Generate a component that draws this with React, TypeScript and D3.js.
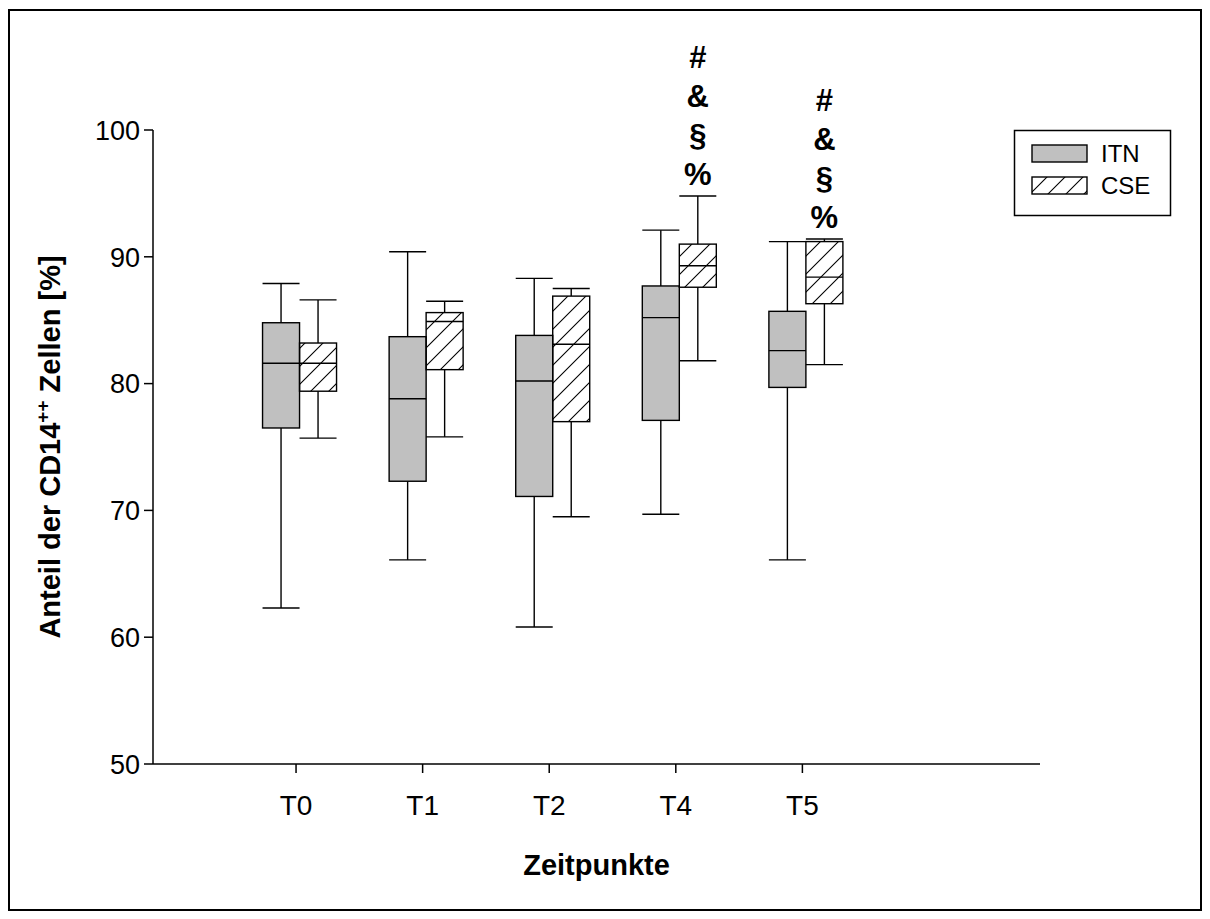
import React from "react";
import * as d3 from "d3";

// Time points on the x axis
const categories = ["T0", "T1", "T2", "T4", "T5"];

// ITN group: whisker low, lower quartile, median, upper quartile, whisker high (%)
const itnLow = [62.3, 66.1, 60.8, 69.7, 66.1];
const itnQ1 = [76.5, 72.3, 71.1, 77.1, 79.7];
const itnMedian = [81.6, 78.8, 80.2, 85.2, 82.6];
const itnQ3 = [84.8, 83.7, 83.8, 87.7, 85.7];
const itnHigh = [87.9, 90.4, 88.3, 92.1, 91.2];

// CSE group
const cseLow = [75.7, 75.8, 69.5, 81.8, 81.5];
const cseQ1 = [79.4, 81.1, 77.0, 87.6, 86.3];
const cseMedian = [81.6, 84.9, 83.1, 89.3, 88.4];
const cseQ3 = [83.2, 85.6, 86.9, 91.0, 91.2];
const cseHigh = [86.6, 86.5, 87.5, 94.8, 91.4];

// Significance symbols stacked above the CSE boxes of these time points
const significanceMarks = ["#", "&", "§", "%"];
const markedTimepoints = ["T4", "T5"];

const yTicks = [50, 60, 70, 80, 90, 100];
const seriesNames = ["ITN", "CSE"];

const FONT = "'Liberation Sans', Arial, Helvetica, sans-serif";

const PLOT = { left: 153, right: 1040, top: 130, bottom: 764 };
const BOX_W = 37;
const PAIR_SHIFT = 3.5;

type Stats = { low: number; q1: number; med: number; q3: number; high: number };

function BoxGlyph({ cx, s, y, fill }: { cx: number; s: Stats; y: d3.ScaleLinear<number, number>; fill: string }) {
  const half = BOX_W / 2;
  return (
    <g stroke="#000" strokeWidth={1.4}>
      <line x1={cx} x2={cx} y1={y(s.high)} y2={y(s.q3)} />
      <line x1={cx} x2={cx} y1={y(s.q1)} y2={y(s.low)} />
      <line x1={cx - half} x2={cx + half} y1={y(s.high)} y2={y(s.high)} />
      <line x1={cx - half} x2={cx + half} y1={y(s.low)} y2={y(s.low)} />
      <rect x={cx - half} y={y(s.q3)} width={BOX_W} height={y(s.q1) - y(s.q3)} fill={fill} />
      <line x1={cx - half} x2={cx + half} y1={y(s.med)} y2={y(s.med)} />
    </g>
  );
}

export default function App() {
  const y = d3.scaleLinear().domain([50, 100]).range([PLOT.bottom, PLOT.top]);
  const x = d3.scaleLinear().domain([-1.13, 5.877]).range([PLOT.left, PLOT.right]);

  const itn: Stats[] = categories.map((_, i) => ({
    low: itnLow[i], q1: itnQ1[i], med: itnMedian[i], q3: itnQ3[i], high: itnHigh[i],
  }));
  const cse: Stats[] = categories.map((_, i) => ({
    low: cseLow[i], q1: cseQ1[i], med: cseMedian[i], q3: cseQ3[i], high: cseHigh[i],
  }));

  const midY = (PLOT.top + PLOT.bottom) / 2;
  const midX = (PLOT.left + PLOT.right) / 2;

  return (
    <svg
      width={1210}
      height={919}
      style={{ position: "absolute", left: 0, top: 0, background: "#fff" }}
      fontFamily={FONT}
    >
      <defs>
        <pattern id="hatch" patternUnits="userSpaceOnUse" width={18} height={18}>
          <path
            d="M0,18 L18,0 M-4.5,4.5 L4.5,-4.5 M13.5,22.5 L22.5,13.5"
            stroke="#000"
            strokeWidth={1.1}
          />
        </pattern>
      </defs>

      {/* outer frame */}
      <rect x={9} y={10} width={1192} height={900} fill="#fff" stroke="#000" strokeWidth={2} />

      {/* y axis */}
      <line x1={PLOT.left} x2={PLOT.left} y1={PLOT.top} y2={PLOT.bottom} stroke="#000" strokeWidth={1.5} />
      {yTicks.map((t) => (
        <g key={t}>
          <line x1={PLOT.left - 9} x2={PLOT.left} y1={y(t)} y2={y(t)} stroke="#000" strokeWidth={1.5} />
          <text x={PLOT.left - 13} y={y(t)} dy="0.36em" textAnchor="end" fontSize={27}>
            {t}
          </text>
        </g>
      ))}

      {/* x axis */}
      <line x1={PLOT.left} x2={PLOT.right} y1={PLOT.bottom} y2={PLOT.bottom} stroke="#000" strokeWidth={1.5} />
      {categories.map((c, i) => (
        <g key={c}>
          <line x1={x(i)} x2={x(i)} y1={PLOT.bottom} y2={PLOT.bottom + 9} stroke="#000" strokeWidth={1.5} />
          <text x={x(i)} y={PLOT.bottom + 51} textAnchor="middle" fontSize={28}>
            {c}
          </text>
        </g>
      ))}

      {/* axis titles */}
      <text x={midX} y={PLOT.bottom + 111} textAnchor="middle" fontSize={29} fontWeight="bold">
        Zeitpunkte
      </text>
      <text
        transform={`translate(60,${midY}) rotate(-90)`}
        textAnchor="middle"
        fontSize={29}
        fontWeight="bold"
      >
        Anteil der CD14
        <tspan fontSize={19} dy={-11}>++</tspan>
        <tspan dy={11}> Zellen [%]</tspan>
      </text>

      {/* box plots */}
      {categories.map((c, i) => {
        const cItn = x(i) + PAIR_SHIFT - BOX_W / 2;
        const cCse = x(i) + PAIR_SHIFT + BOX_W / 2;
        return (
          <g key={c}>
            <BoxGlyph cx={cItn} s={itn[i]} y={y} fill="#c0c0c0" />
            <BoxGlyph cx={cCse} s={cse[i]} y={y} fill="url(#hatch)" />
            {markedTimepoints.includes(c) &&
              significanceMarks.map((m, k) => (
                <text
                  key={m}
                  x={cCse}
                  y={y(cse[i].high) - 11 - (significanceMarks.length - 1 - k) * 39}
                  textAnchor="middle"
                  fontSize={31}
                  fontWeight="bold"
                >
                  {m}
                </text>
              ))}
          </g>
        );
      })}

      {/* legend */}
      <g>
        <rect x={1014.5} y={130.5} width={156} height={85} fill="#fff" stroke="#000" strokeWidth={1.5} />
        {seriesNames.map((name, k) => (
          <g key={name}>
            <rect
              x={1032}
              y={145 + k * 32}
              width={55}
              height={17}
              fill={k === 0 ? "#c0c0c0" : "url(#hatch)"}
              stroke="#000"
              strokeWidth={1.4}
            />
            <text x={1101} y={162 + k * 32} fontSize={24}>
              {name}
            </text>
          </g>
        ))}
      </g>
    </svg>
  );
}
